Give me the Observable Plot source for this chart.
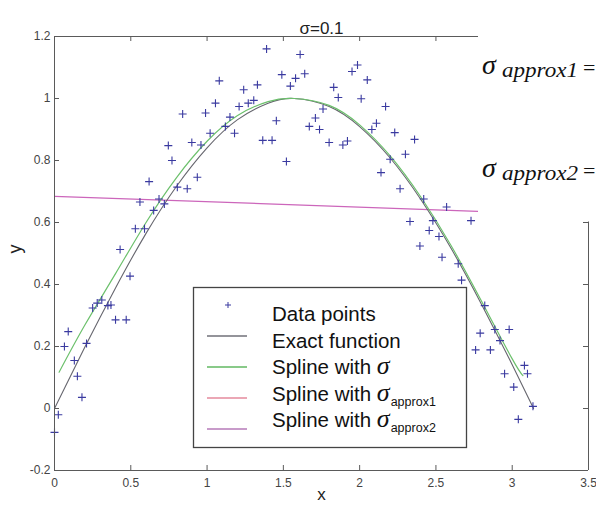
<!DOCTYPE html>
<html><head><meta charset="utf-8">
<script src="https://cdn.jsdelivr.net/npm/d3@7"></script>
<script src="https://cdn.jsdelivr.net/npm/@observablehq/plot@0.6"></script>
<style>
body{margin:0;background:#fff;overflow:hidden}
#chart{position:relative;width:596px;height:507px;overflow:hidden}
svg{overflow:hidden}
</style></head><body><div id="chart"></div>
<script>
const title = "σ=0.1";
const xLabel = "x";
const yLabel = "y";
const xTicks = [0, 0.5, 1, 1.5, 2, 2.5, 3, 3.5];
const xTickLabels = ["0", "0.5", "1", "1.5", "2", "2.5", "3", "3.5"];
const yTicks = [-0.2, 0, 0.2, 0.4, 0.6, 0.8, 1, 1.2];
const yTickLabels = ["-0.2", "0", "0.2", "0.4", "0.6", "0.8", "1", "1.2"];

// noisy data points
const pointX = [0.00,0.025,0.065,0.09,0.13,0.15,0.18,0.21,0.25,0.28,0.31,0.35,0.37,0.40,0.47,0.43,0.495,0.53,0.59,0.56,
  0.62,0.65,0.685,0.72,0.746,0.77,0.805,0.84,0.87,0.90,0.936,0.96,0.99,1.02,1.055,1.08,1.12,1.15,1.18,1.21,
  1.24,1.27,1.306,1.33,1.365,1.39,1.426,1.454,1.49,1.52,1.546,1.58,1.61,1.64,1.67,1.71,1.737,1.76,1.80,1.83,
  1.86,1.89,1.92,1.95,1.986,2.01,2.05,2.08,2.11,2.14,2.17,2.20,2.23,2.265,2.30,2.33,2.36,2.395,2.42,2.456,
  2.48,2.52,2.54,2.57,2.646,2.668,2.73,2.76,2.79,2.82,2.857,2.886,2.92,2.95,2.98,3.01,3.04,3.08,3.10,3.136];
const pointY = [-0.077,-0.02,0.20,0.248,0.155,0.104,0.036,0.21,0.324,0.34,0.35,0.332,0.334,0.286,0.286,0.513,0.427,0.58,0.58,0.666,
  0.732,0.639,0.676,0.66,0.848,0.80,0.714,0.95,0.709,0.858,0.746,0.85,0.953,0.888,0.985,1.057,0.91,0.94,0.888,0.974,
  1.028,0.985,0.994,1.044,0.865,1.16,0.865,0.928,1.077,0.797,1.04,1.065,1.142,1.08,0.91,0.937,0.90,0.966,0.858,1.036,
  1.003,0.85,0.863,1.087,1.108,0.999,1.06,0.90,0.92,0.761,0.974,0.804,0.89,0.709,0.82,0.603,0.868,0.524,0.676,0.574,
  0.606,0.555,0.488,0.65,0.467,0.414,0.606,0.189,0.243,0.332,0.189,0.255,0.219,0.112,0.255,0.069,-0.035,0.139,0.112,0.007];

// exact function
const exactX = [0,0.2,0.4,0.6,0.8,1.0,1.2,1.4,1.57,1.8,2.0,2.2,2.4,2.6,2.8,3.0,3.14];
const exactY = [0,0.199,0.389,0.565,0.717,0.841,0.932,0.985,1.0,0.974,0.909,0.808,0.675,0.516,0.335,0.141,0.0];

// spline with sigma
const splineX = [0.03,0.2,0.4,0.6,0.8,1.0,1.2,1.4,1.57,1.8,2.0,2.2,2.4,2.6,2.8,3.0,3.07];
const splineY = [0.117,0.27,0.435,0.60,0.745,0.862,0.945,0.99,1.0,0.978,0.915,0.815,0.683,0.525,0.345,0.16,0.106];

// spline with sigma_approx2 (visible part)
const approx2X = [0, 1.35, 2.775];
const approx2Y = [0.684, 0.661, 0.636];

const legendLabels = ["Data points", "Exact function", "Spline with ", "Spline with ", "Spline with "];
const legendSubs = [null, null, "", "approx1", "approx2"];
const legendColors = ["#3a3aa0", "#707078", "#62b862", "#e58a9c", "#b67ab8"];

const points = pointX.map((x, i) => ({x, y: pointY[i]}));
const exact = exactX.map((x, i) => ({x, y: exactY[i]}));
const spline = splineX.map((x, i) => ({x, y: splineY[i]}));
const approx2 = approx2X.map((x, i) => ({x, y: approx2Y[i]}));

const plusSymbol = {
  draw(ctx, size) {
    const r = Math.sqrt(size / Math.PI);
    ctx.moveTo(-r, 0); ctx.lineTo(r, 0);
    ctx.moveTo(0, -r); ctx.lineTo(0, r);
  }
};

const W = 596, H = 507, mL = 54, mR = 8, mT = 36, mB = 37;
const pw = W - mL - mR, ph = H - mT - mB;
const axisColor = "#5a5a5a";
const font = "Liberation Sans, Arial, sans-serif";
const mathFont = "Liberation Serif, Times New Roman, serif";

const chart = Plot.plot({
  width: W, height: H,
  marginLeft: mL, marginRight: mR, marginTop: mT, marginBottom: mB,
  style: {fontFamily: font, background: "#fff"},
  x: {domain: [0, 3.5], axis: null},
  y: {domain: [-0.2, 1.2], axis: null},
  marks: [
    Plot.line(approx2, {x: "x", y: "y", stroke: "#cc66bb", strokeWidth: 1.2}),
    Plot.line(exact, {x: "x", y: "y", curve: "natural", stroke: "#66666e", strokeWidth: 1.1}),
    Plot.line(spline, {x: "x", y: "y", curve: "natural", stroke: "#6cc06c", strokeWidth: 1.2}),
    Plot.dot(points, {x: "x", y: "y", symbol: plusSymbol, r: 4, stroke: "#3a3aa0", strokeWidth: 1.1, fill: "none"}),
    // frame
    Plot.ruleX([0], {stroke: axisColor}),
    Plot.ruleX([3.5], {stroke: axisColor}),
    Plot.ruleY([-0.2], {stroke: axisColor}),
    Plot.ruleY([1.2], {stroke: axisColor}),
    // inward ticks
    Plot.tickX(xTicks, {x: d => d, insetTop: ph - 5, stroke: axisColor}),
    Plot.tickX(xTicks, {x: d => d, insetBottom: ph - 5, stroke: axisColor}),
    Plot.tickY(yTicks, {y: d => d, insetRight: pw - 5, stroke: axisColor}),
    Plot.tickY(yTicks, {y: d => d, insetLeft: pw - 5, stroke: axisColor}),
    // tick labels
    Plot.axisX(xTicks, {tickSize: 0, tickPadding: 8, fontSize: 12, fill: "#444",
      tickFormat: d => xTickLabels[xTicks.indexOf(d)], label: null}),
    Plot.axisY(yTicks, {tickSize: 0, tickPadding: 4, fontSize: 12, fill: "#444",
      tickFormat: d => yTickLabels[yTicks.indexOf(d)], label: null}),
    // titles
    Plot.text([title], {frameAnchor: "top", dy: -15, fontSize: 17, fill: "#222"}),
    Plot.text([xLabel], {frameAnchor: "bottom", dy: 29, fontSize: 17, fill: "#222"}),
    Plot.text([yLabel], {frameAnchor: "left", dx: -39, rotate: -90, fontSize: 18, fill: "#222"})
  ]
});
document.getElementById("chart").appendChild(chart);

const svg = d3.select(chart);

// white patch at upper right with the sigma annotations
const note = svg.append("g").attr("text-anchor", "start");
note.append("rect").attr("x", 478).attr("y", 0).attr("width", W - 478).attr("height", 221.5).attr("fill", "#fff");
function sigmaNote(baseline, sub) {
  note.append("text").attr("x", 482).attr("y", baseline)
    .attr("font-family", mathFont).attr("font-style", "italic").attr("font-size", 28).attr("fill", "#111").text("σ");
  note.append("text").attr("x", 502).attr("y", baseline + 3)
    .attr("font-family", mathFont).attr("font-style", "italic").attr("font-size", 20).attr("fill", "#111")
    .attr("textLength", 76).attr("lengthAdjust", "spacingAndGlyphs").text(sub);
  note.append("text").attr("x", 583).attr("y", baseline + 1)
    .attr("font-family", mathFont).attr("font-size", 22).attr("fill", "#111").text("=");
}
sigmaNote(74, "approx1");
sigmaNote(177, "approx2");

// legend
const lg = svg.append("g").attr("text-anchor", "start");
lg.append("rect").attr("x", 193.5).attr("y", 287.5).attr("width", 273).attr("height", 160)
  .attr("fill", "#fff").attr("stroke", "#444").attr("stroke-width", 1.3);
legendLabels.forEach((lab, i) => {
  const sy = 305 + 31 * i;
  if (i === 0) {
    lg.append("path").attr("d", `M${228 - 3},${sy}H${228 + 3}M228,${sy - 3}V${sy + 3}`)
      .attr("stroke", legendColors[i]).attr("stroke-width", 1);
  } else {
    lg.append("line").attr("x1", 207).attr("x2", 247).attr("y1", sy).attr("y2", sy)
      .attr("stroke", legendColors[i]).attr("stroke-width", 1.3);
  }
  const t = lg.append("text").attr("x", 272).attr("y", 321 + 26.5 * i)
    .attr("font-family", font).attr("font-size", 20.5).attr("fill", "#111");
  t.append("tspan").text(lab);
  if (legendSubs[i] !== null) {
    t.append("tspan").attr("font-family", mathFont).attr("font-style", "italic").attr("font-size", 26).text("σ");
    if (legendSubs[i]) {
      t.append("tspan").attr("font-size", 12.5).attr("dy", 5).attr("dx", 1).text(legendSubs[i]);
    }
  }
});
</script></body></html>
